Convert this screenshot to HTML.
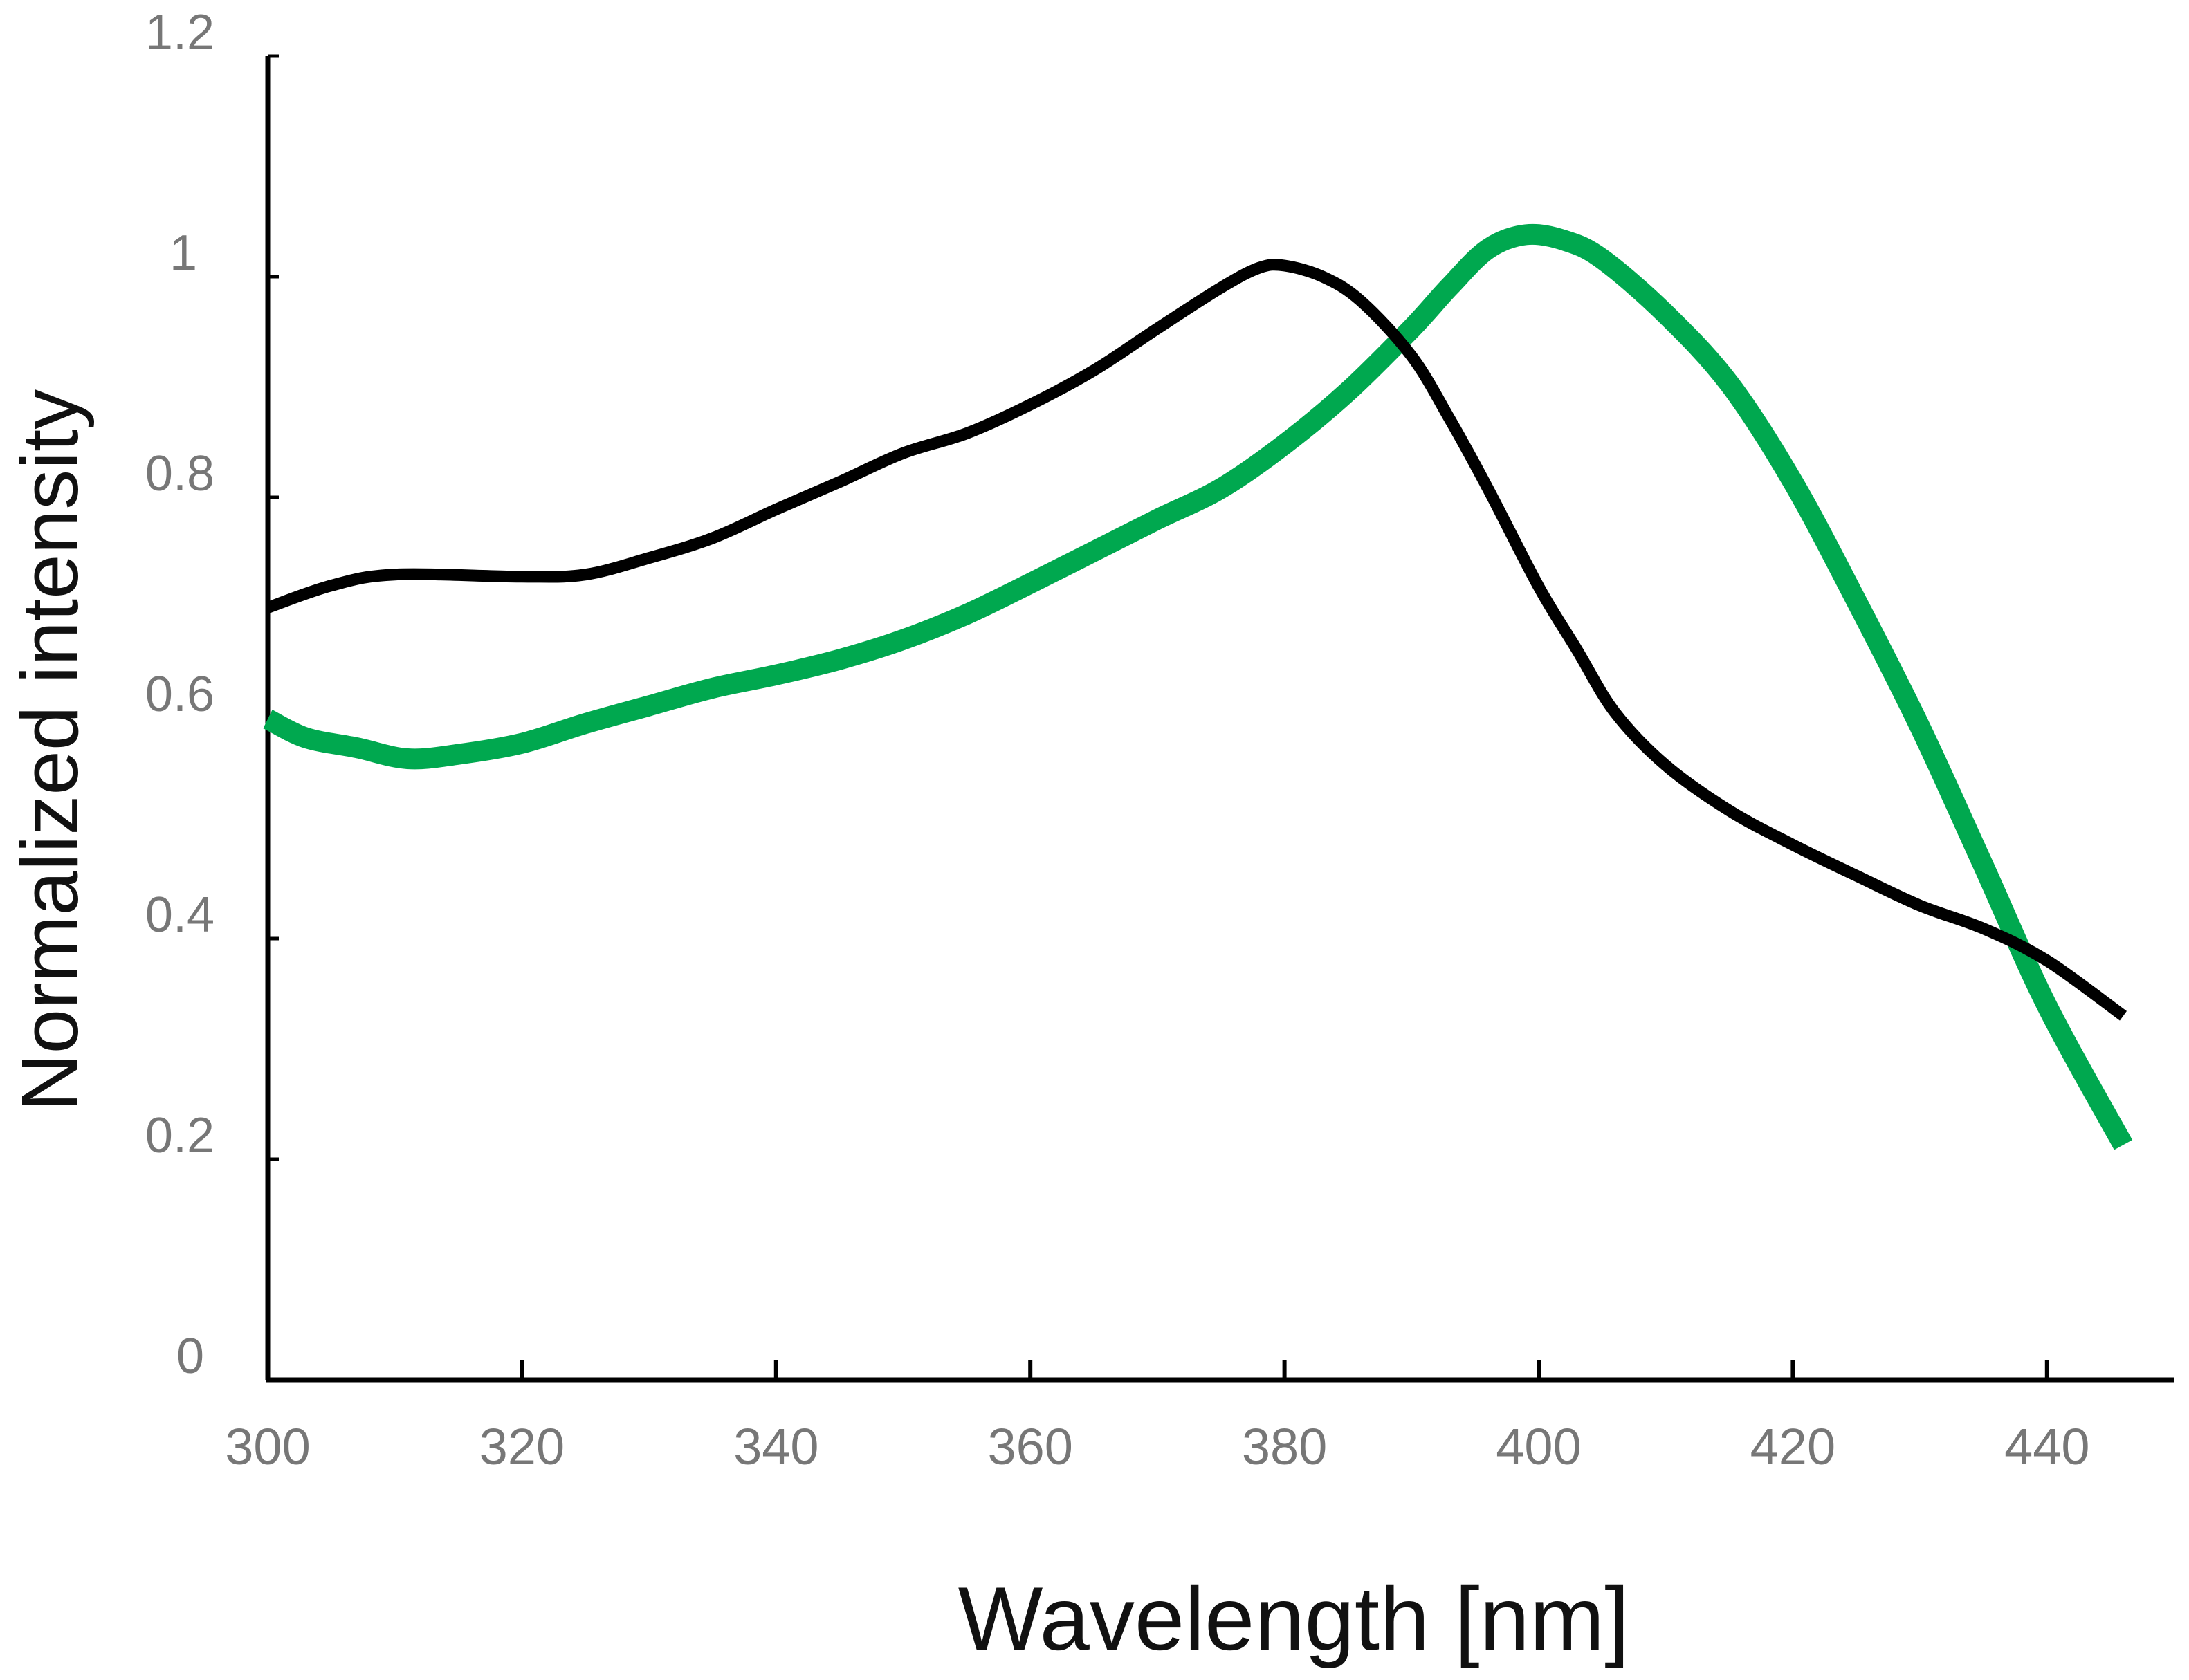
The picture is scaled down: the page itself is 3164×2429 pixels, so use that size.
<!DOCTYPE html>
<html><head><meta charset="utf-8"><style>
html,body{margin:0;padding:0;background:#fff;}
svg{display:block;}
</style></head><body>
<svg id="chart" width="3164" height="2429" viewBox="0 0 3164 2429" xmlns="http://www.w3.org/2000/svg" font-family="'Liberation Sans', sans-serif">
<g id="axes"></g>
<g id="series"></g>
<text transform="translate(112,1085) rotate(-90)" text-anchor="middle" font-size="116" fill="#111">Normalized intensity</text>
<text x="1870" y="2385" text-anchor="middle" font-size="130" fill="#111">Wavelength [nm]</text>
</svg>
<script>
const xTicks = [300,320,340,360,380,400,420,440];
const yTicks = [0,0.2,0.4,0.6,0.8,1,1.2];
const yTickLabels = ["0","0.2","0.4","0.6","0.8","1","1.2"];
const blackX = [300,305,310,320,325,330,335,340,345,350,355,360,365,370,375,378,380,383,386,390,393,396,400,403,406,410,415,420,425,430,435,440,446];
const blackY = [0.70,0.72,0.73,0.728,0.73,0.745,0.763,0.789,0.814,0.84,0.858,0.884,0.915,0.953,0.99,1.008,1.01,1.0,0.978,0.928,0.871,0.808,0.719,0.662,0.605,0.557,0.516,0.485,0.457,0.43,0.409,0.38,0.33];
const greenX = [300,303,307,311,315,320,325,330,335,340,345,350,355,360,365,370,375,380,385,390,393,396,399,402,405,410,415,420,425,430,435,440,446];
const greenY = [0.599,0.582,0.573,0.563,0.567,0.577,0.595,0.611,0.627,0.639,0.653,0.671,0.694,0.722,0.751,0.78,0.808,0.848,0.896,0.953,0.991,1.025,1.038,1.033,1.016,0.966,0.903,0.814,0.706,0.592,0.466,0.339,0.213];

const NS="http://www.w3.org/2000/svg";
const X0=387, Y0=1995;
function sx(nm){return X0+(nm-300)*18.37;}
function sy(v){return Y0-v*1595;}
const axes=document.getElementById('axes');
function mk(tag,attrs,parent){const e=document.createElementNS(NS,tag);for(const k in attrs)e.setAttribute(k,attrs[k]);parent.appendChild(e);return e;}

const yl=mk('line',{x1:X0,y1:sy(1.2),x2:X0,y2:Y0,stroke:'#000','stroke-width':7},axes);


const xl=mk('line',{x1:X0-3,y1:Y0,x2:3142,y2:Y0,stroke:'#000','stroke-width':7},axes);



xTicks.forEach(t=>{
  const tk=mk('line',{x1:sx(t),y1:Y0,x2:sx(t),y2:Y0-28,stroke:'#000','stroke-width':6},axes);
  
  
  const tx=mk('text',{x:sx(t),y:Y0+122,'text-anchor':'middle','font-size':74,fill:'#777'},axes);
  tx.textContent=t;
  
  
});
yTicks.forEach((t,i)=>{
  const tk=mk('line',{x1:X0,y1:sy(t),x2:X0+16,y2:sy(t),stroke:'#000','stroke-width':5},axes);
  
  
  const tx=mk('text',{x:(t===0?295:(t===1?285:310)),y:sy(t)-10,'text-anchor':'end','font-size':72,fill:'#777'},axes);
  tx.textContent=yTickLabels[i];
  
  
});

const series=document.getElementById('series');
function path(xs,ys){
  const p=xs.map((x,i)=>[sx(x),sy(ys[i])]);
  let d='M'+p[0][0].toFixed(1)+','+p[0][1].toFixed(1);
  for(let i=0;i<p.length-1;i++){
    const p0=p[Math.max(0,i-1)],p1=p[i],p2=p[i+1],p3=p[Math.min(p.length-1,i+2)];
    const c1x=p1[0]+(p2[0]-p0[0])/6,c1y=p1[1]+(p2[1]-p0[1])/6;
    const c2x=p2[0]-(p3[0]-p1[0])/6,c2y=p2[1]-(p3[1]-p1[1])/6;
    d+=' C'+c1x.toFixed(1)+','+c1y.toFixed(1)+' '+c2x.toFixed(1)+','+c2y.toFixed(1)+' '+p2[0].toFixed(1)+','+p2[1].toFixed(1);
  }
  return d;
}
const g=mk('path',{d:path(greenX,greenY),fill:'none',stroke:'#00a84f','stroke-width':30,'stroke-linejoin':'round'},series);


const b=mk('path',{d:path(blackX,blackY),fill:'none',stroke:'#000','stroke-width':17,'stroke-linejoin':'round'},series);


</script>
</body></html>
